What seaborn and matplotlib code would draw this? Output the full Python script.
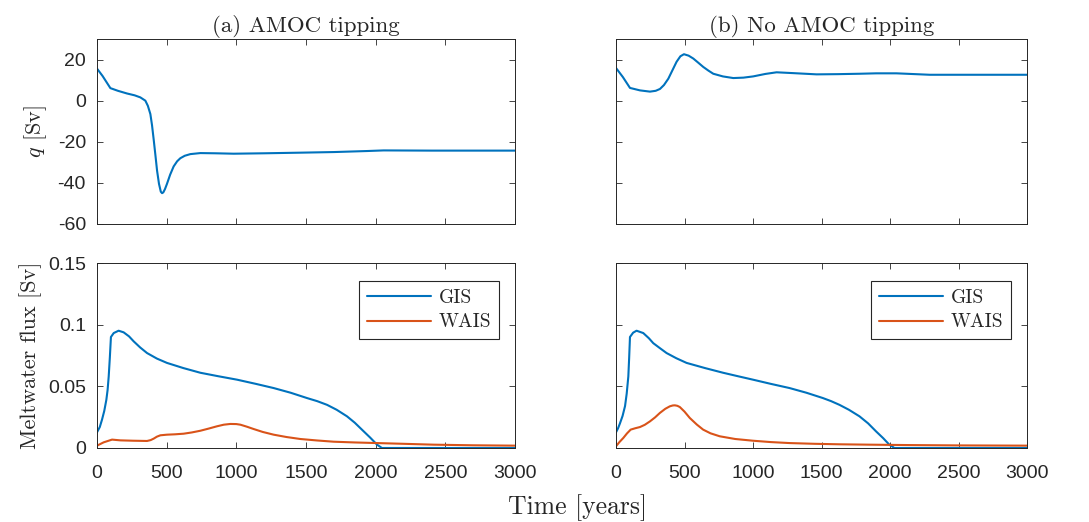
import matplotlib
matplotlib.use('Agg')
import matplotlib.pyplot as plt
import seaborn as sns

# q [Sv]
t_q_a = [0, 40, 96, 150, 215, 270, 311, 347, 365, 383, 395, 407, 420, 431, 445, 458, 467, 476, 488, 502, 525, 550, 575, 598, 630, 670, 742, 850, 981, 1200, 1459, 1700, 1938, 2057, 2400, 3000]
q_a = [15.6, 12.0, 6.1, 4.8, 3.5, 2.6, 1.6, 0.0, -2.5, -6.5, -12.0, -19.0, -27.0, -34.0, -40.5, -44.3, -45.0, -44.6, -43.0, -40.5, -36.0, -32.0, -29.5, -28.0, -26.8, -26.0, -25.5, -25.6, -25.8, -25.6, -25.3, -25.0, -24.5, -24.2, -24.3, -24.3]

# q [Sv]
t_q_b = [0, 50, 102, 175, 248, 290, 321, 350, 382, 412, 442, 470, 496, 530, 564, 600, 637, 675, 710, 780, 856, 930, 1001, 1090, 1172, 1293, 1464, 1620, 1780, 1900, 2047, 2290, 2600, 3000]
q_b = [15.9, 11.5, 6.2, 5.0, 4.4, 4.8, 5.7, 7.6, 10.7, 14.8, 18.9, 21.6, 22.6, 21.9, 20.5, 18.5, 16.4, 14.6, 13.1, 11.8, 11.0, 11.2, 11.8, 13.0, 13.8, 13.4, 12.8, 12.9, 13.1, 13.3, 13.3, 12.6, 12.6, 12.6]

# meltwater flux [Sv], panel (a)
t_gis_a = [0, 20, 36, 52, 67, 76, 84, 92, 100, 120, 155, 191, 230, 263, 310, 359, 430, 502, 620, 742, 870, 1005, 1140, 1268, 1390, 1507, 1580, 1651, 1720, 1794, 1850, 1914, 1960, 2010, 2045, 2200, 3000]
gis_a = [0.0127, 0.017, 0.023, 0.030, 0.039, 0.047, 0.058, 0.073, 0.090, 0.0932, 0.0951, 0.0938, 0.0905, 0.0865, 0.0815, 0.077, 0.0725, 0.069, 0.0648, 0.061, 0.0582, 0.0554, 0.052, 0.0486, 0.0448, 0.0405, 0.038, 0.035, 0.031, 0.0257, 0.0205, 0.0135, 0.0085, 0.0027, 0.0, 0.0, 0.0]
t_wais_a = [0, 48, 108, 167, 260, 359, 385, 407, 430, 455, 502, 560, 622, 680, 742, 800, 861, 910, 957, 1000, 1029, 1075, 1124, 1190, 1268, 1360, 1459, 1580, 1699, 1850, 2010, 2200, 2416, 2700, 3000]
wais_a = [0.0019, 0.0046, 0.0068, 0.0062, 0.0059, 0.0057, 0.0064, 0.0076, 0.0092, 0.0103, 0.0108, 0.0111, 0.0116, 0.0126, 0.014, 0.0157, 0.0176, 0.0189, 0.0195, 0.0194, 0.0189, 0.0173, 0.0154, 0.0130, 0.0108, 0.0089, 0.0073, 0.0061, 0.0051, 0.0045, 0.004, 0.0034, 0.0027, 0.0022, 0.0019]

# meltwater flux [Sv], panel (b)
t_gis_b = [0, 15, 29, 48, 66, 78, 90, 96, 102, 125, 150, 199, 240, 272, 320, 369, 440, 515, 650, 782, 890, 1000, 1130, 1267, 1390, 1510, 1570, 1631, 1700, 1777, 1840, 1898, 1950, 1995, 2032, 2200, 3000]
gis_b = [0.0127, 0.016, 0.020, 0.026, 0.034, 0.044, 0.058, 0.073, 0.090, 0.0935, 0.0951, 0.0932, 0.089, 0.085, 0.081, 0.077, 0.0728, 0.069, 0.0648, 0.061, 0.0582, 0.0554, 0.052, 0.0486, 0.0448, 0.0405, 0.038, 0.035, 0.031, 0.0257, 0.0200, 0.0135, 0.008, 0.0027, 0.0, 0.0, 0.0]
t_wais_b = [0, 25, 53, 80, 107, 140, 175, 210, 248, 285, 320, 360, 393, 415, 430, 448, 466, 500, 539, 590, 636, 690, 757, 870, 1000, 1130, 1267, 1450, 1631, 1850, 2117, 2500, 3000]
wais_b = [0.0014, 0.0048, 0.0081, 0.0118, 0.0149, 0.0160, 0.017, 0.0188, 0.0216, 0.0248, 0.0284, 0.0318, 0.0338, 0.0345, 0.0346, 0.0342, 0.0332, 0.0295, 0.0243, 0.0190, 0.0149, 0.0119, 0.0095, 0.0073, 0.0059, 0.0048, 0.004, 0.0034, 0.003, 0.0027, 0.0024, 0.0021, 0.0019]

titles = ['(a) AMOC tipping', '(b) No AMOC tipping']
x_ticks = [0, 500, 1000, 1500, 2000, 2500, 3000]
q_ticks = [-60, -40, -20, 0, 20]
q_tick_labels = ['-60', '-40', '-20', '0', '20']
m_ticks = [0, 0.05, 0.1, 0.15]
m_tick_labels = ['0', '0.05', '0.1', '0.15']

sns.set_theme(style='white')
plt.rcParams['font.family'] = ['cmr10', 'DejaVu Serif']
plt.rcParams['mathtext.fontset'] = 'cm'
plt.rcParams['axes.unicode_minus'] = False

blue = '#0072BD'
orange = '#D95319'
dark = '#262626'
tick_fam = 'Liberation Sans'
tick_size = 14

W, H = 1089, 522
fig = plt.figure(figsize=(W / 100, H / 100), dpi=100)

def box(l, r, top, bot):
    return [l / W, (H - bot) / H, (r - l) / W, (bot - top) / H]

ax_q_a = fig.add_axes(box(97, 515, 39, 224))
ax_q_b = fig.add_axes(box(616, 1027, 39, 224))
ax_m_a = fig.add_axes(box(97, 515, 263, 448))
ax_m_b = fig.add_axes(box(616, 1027, 263, 448))

sns.lineplot(x=t_q_a, y=q_a, ax=ax_q_a, color=blue, linewidth=1.5)
sns.lineplot(x=t_q_b, y=q_b, ax=ax_q_b, color=blue, linewidth=1.5)

for ax, tg, g, tw, w in [(ax_m_a, t_gis_a, gis_a, t_wais_a, wais_a),
                         (ax_m_b, t_gis_b, gis_b, t_wais_b, wais_b)]:
    sns.lineplot(x=tg, y=g, ax=ax, color=blue, linewidth=1.5, label='GIS')
    sns.lineplot(x=tw, y=w, ax=ax, color=orange, linewidth=1.5, label='WAIS')
    leg = ax.legend(loc='upper right', bbox_to_anchor=(0.962, 0.903), borderaxespad=0,
                    fancybox=False, framealpha=1, edgecolor=dark, fontsize=14,
                    handlelength=3.3, borderpad=0.4, labelspacing=0.35, handletextpad=0.4)
    leg.get_frame().set_linewidth(0.8)

for ax in [ax_q_a, ax_q_b, ax_m_a, ax_m_b]:
    ax.set_xlim(0, 3000)
    ax.set_xticks(x_ticks)
    ax.tick_params(direction='in', length=4, width=0.6, color=dark, top=True, right=True,
                   bottom=True, left=True, labelcolor=dark)
    ax.tick_params(axis='x', pad=12)
    ax.tick_params(axis='y', pad=8)
    for sp in ax.spines.values():
        sp.set_color(dark)
        sp.set_linewidth(0.7)
    ax.set_xlabel('')
    ax.set_ylabel('')

for ax in [ax_q_a, ax_q_b]:
    ax.set_ylim(-60, 30)
    ax.set_yticks(q_ticks)
    ax.set_xticklabels([])
for ax in [ax_m_a, ax_m_b]:
    ax.set_ylim(0, 0.15)
    ax.set_yticks(m_ticks)
    ax.set_xticklabels([str(v) for v in x_ticks], family=tick_fam, fontsize=tick_size)

ax_q_a.set_yticklabels(q_tick_labels, family=tick_fam, fontsize=tick_size)
ax_m_a.set_yticklabels(m_tick_labels, family=tick_fam, fontsize=tick_size)
ax_q_b.set_yticklabels([])
ax_m_b.set_yticklabels([])

ax_q_a.set_title(titles[0], fontsize=16.5, pad=5)
ax_q_b.set_title(titles[1], fontsize=16.5, pad=5)
ax_q_a.set_ylabel('$q$ [Sv]', fontsize=16, labelpad=6)
ax_m_a.set_ylabel('Meltwater flux [Sv]', fontsize=16, labelpad=4)
fig.text(577 / W, 1 - 508 / H, 'Time [years]', ha='center', va='center', fontsize=18.5)

fig.savefig('out.png', dpi=100)
